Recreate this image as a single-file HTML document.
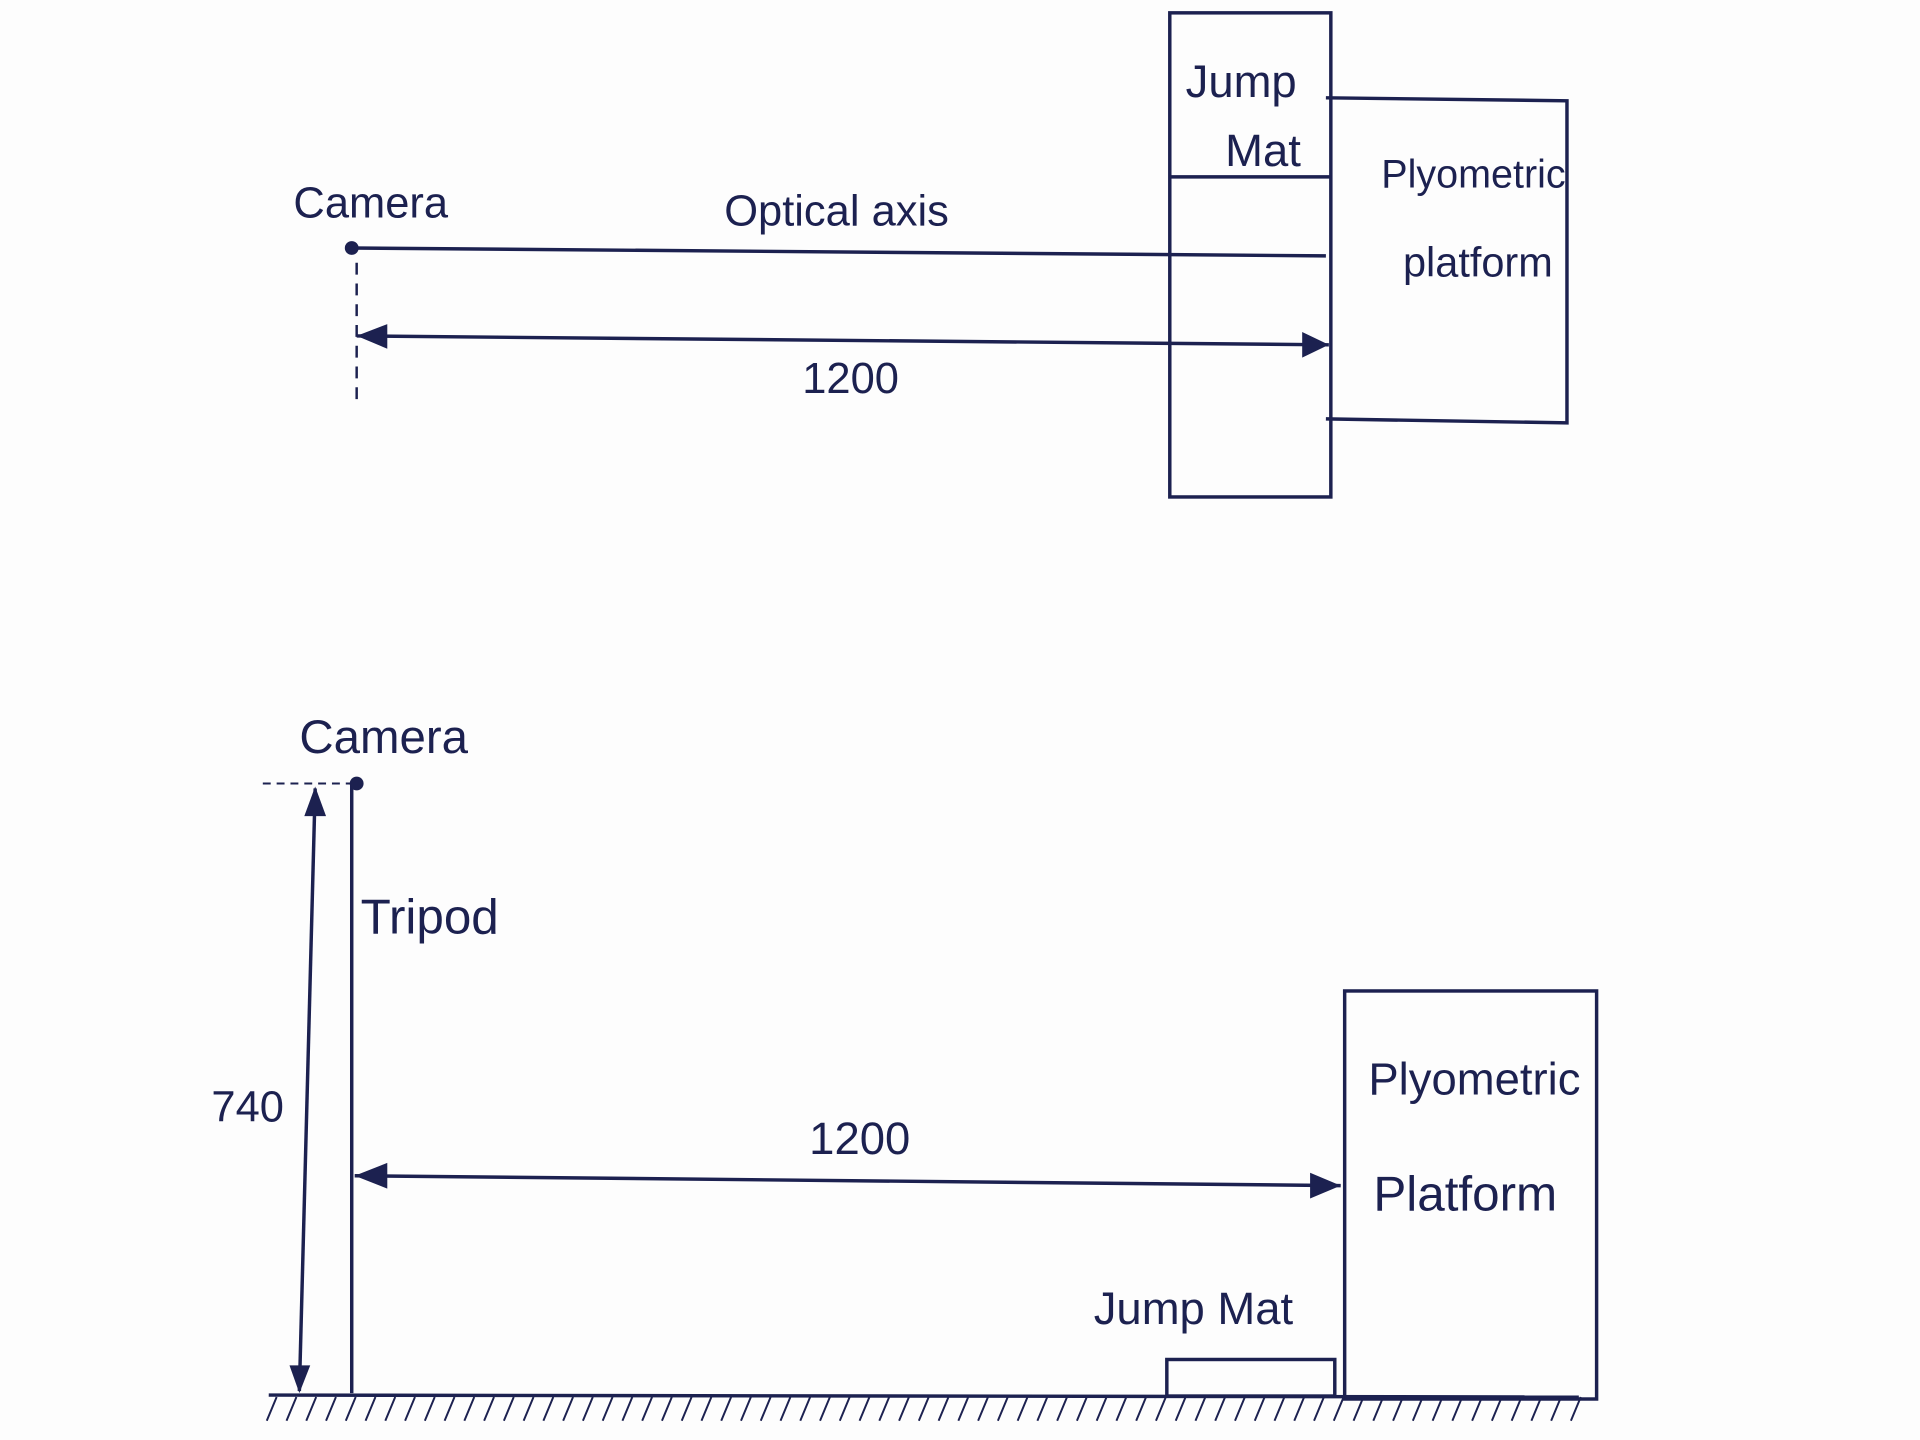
<!DOCTYPE html>
<html><head><meta charset="utf-8"><style>
html,body{margin:0;padding:0;background:#fdfdfd;}
svg{display:block;}
text{font-family:"Liberation Sans",sans-serif;fill:#1c2150;}
</style></head><body>
<svg width="1920" height="1440" viewBox="0 0 1920 1440" xmlns="http://www.w3.org/2000/svg">
<rect width="1920" height="1440" fill="#fdfdfd"/>
<g transform="scale(0.988)">
<g stroke="#1c2150" stroke-width="3.5" fill="none">
<rect x="1184" y="13" width="163" height="490"/>
<line x1="1184" y1="179" x2="1347" y2="179"/>
<polyline points="1342,99 1586,102 1586,428 1342,424"/>
<line x1="356" y1="251" x2="1342" y2="259"/>
<line x1="361" y1="266" x2="361" y2="410" stroke-dasharray="12,9" stroke-width="2.5"/>
<line x1="361" y1="340" x2="1345" y2="349"/>
<line x1="266" y1="793" x2="359" y2="793" stroke-dasharray="8,6" stroke-width="2"/>
<line x1="356" y1="793" x2="356" y2="1410"/>
<line x1="319" y1="798" x2="303" y2="1408"/>
<line x1="359" y1="1190" x2="1357" y2="1200"/>
<rect x="1361" y="1003" width="255" height="413"/>
<rect x="1181" y="1376" width="170" height="37"/>
<line x1="272" y1="1412" x2="1598" y2="1414"/>
</g>
<g fill="#1c2150">
<path d="M361,340 L392,328 L392,353 Z"/>
<path d="M1345,349 L1318,336 L1318,362 Z"/>
<path d="M359,1190 L392,1177 L392,1203 Z"/>
<path d="M1357,1200 L1326,1187 L1326,1213 Z"/>
<path d="M319,796 L308,826 L330,826 Z"/>
<path d="M303,1410 L293,1382 L314,1382 Z"/>
<circle cx="356" cy="251" r="7"/>
<circle cx="361" cy="793" r="7"/>
</g>
<g stroke="#1c2150" stroke-width="2">
<path d="M280,1414 l-10,24 M300,1414 l-10,24 M320,1414 l-10,24 M340,1414 l-10,24 M360,1414 l-10,24 M380,1414 l-10,24 M400,1414 l-10,24 M420,1414 l-10,24 M440,1414 l-10,24 M460,1414 l-10,24 M480,1414 l-10,24 M500,1414 l-10,24 M520,1414 l-10,24 M540,1414 l-10,24 M560,1414 l-10,24 M580,1414 l-10,24 M600,1414 l-10,24 M620,1414 l-10,24 M640,1414 l-10,24 M660,1414 l-10,24 M680,1414 l-10,24 M700,1414 l-10,24 M720,1414 l-10,24 M740,1414 l-10,24 M760,1414 l-10,24 M780,1414 l-10,24 M800,1414 l-10,24 M820,1414 l-10,24 M840,1414 l-10,24 M860,1414 l-10,24 M880,1414 l-10,24 M900,1414 l-10,24 M920,1414 l-10,24 M940,1414 l-10,24 M960,1414 l-10,24 M980,1414 l-10,24 M1000,1414 l-10,24 M1020,1414 l-10,24 M1040,1414 l-10,24 M1060,1414 l-10,24 M1080,1414 l-10,24 M1100,1414 l-10,24 M1120,1414 l-10,24 M1140,1414 l-10,24 M1160,1414 l-10,24 M1180,1414 l-10,24 M1200,1414 l-10,24 M1220,1414 l-10,24 M1240,1414 l-10,24 M1260,1414 l-10,24 M1280,1414 l-10,24 M1300,1414 l-10,24 M1320,1414 l-10,24 M1340,1414 l-10,24 M1360,1414 l-10,24 M1380,1414 l-10,24 M1400,1414 l-10,24 M1420,1414 l-10,24 M1440,1414 l-10,24 M1460,1414 l-10,24 M1480,1414 l-10,24 M1500,1414 l-10,24 M1520,1414 l-10,24 M1540,1414 l-10,24 M1560,1414 l-10,24 M1580,1414 l-10,24 M1600,1414 l-10,24"/>
</g>
<text x="297" y="220" font-size="44">Camera</text>
<text x="733" y="228" font-size="44">Optical  axis</text>
<text x="812" y="398" font-size="44">1200</text>
<text x="1200" y="98" font-size="46">Jump</text>
<text x="1240" y="168" font-size="46">Mat</text>
<text x="1398" y="190" font-size="40">Plyometric</text>
<text x="1420" y="280" font-size="42">platform</text>
<text x="303" y="762" font-size="48">Camera</text>
<text x="365" y="945" font-size="50">Tripod</text>
<text x="214" y="1135" font-size="44">740</text>
<text x="819" y="1168" font-size="46">1200</text>
<text x="1385" y="1108" font-size="46">Plyometric</text>
<text x="1390" y="1225" font-size="50">Platform</text>
<text x="1107" y="1340" font-size="46">Jump  Mat</text>
</g>
</svg>
</body></html>
